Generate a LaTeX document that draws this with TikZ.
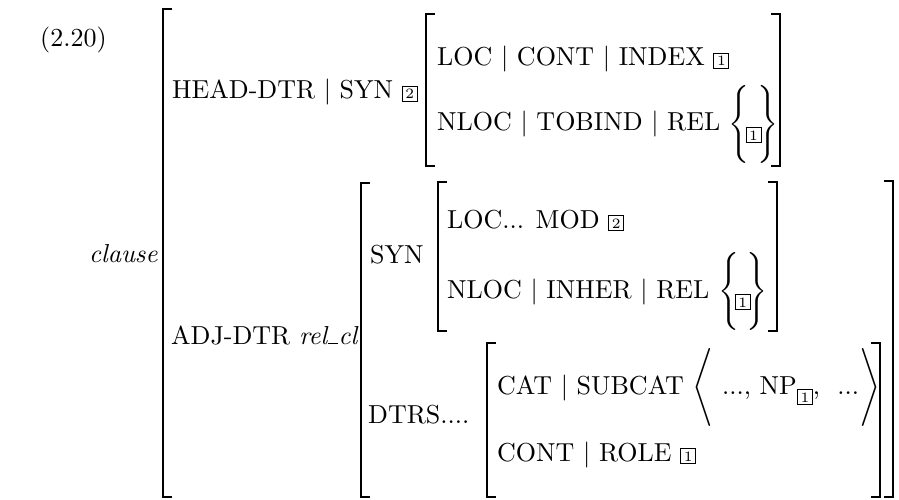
\documentclass[tikz,border=0pt]{standalone}
\usepackage{graphicx}
\usepackage{amsmath}
\newcommand{\tg}[1]{{\setlength{\fboxsep}{0.9pt}\setlength{\fboxrule}{0.38pt}\fbox{\makebox[3.6pt]{\fontsize{5.5}{6}\selectfont #1}}}}
\newcommand{\strt}{\vrule height 16.75pt depth 11.75pt width 0pt}
\newcommand{\T}[1]{\scalebox{2.6}{\fontsize{10}{12}\selectfont #1}}
\newcommand{\avmL}[3]{\draw[brk] (#1+9,#2) -- (#1,#2) -- (#1,#3) -- (#1+9,#3);}
\newcommand{\avmR}[3]{\draw[brk] (#1-9,#2) -- (#1,#2) -- (#1,#3) -- (#1-9,#3);}
\begin{document}
\begin{tikzpicture}[x=1pt,y=-1pt,
  txt/.style={anchor=base west,inner sep=0pt},
  txe/.style={anchor=base east,inner sep=0pt},
  brk/.style={line width=1.8pt,line cap=butt,line join=miter}]
\useasboundingbox (0,0) rectangle (899,500);
% texts
\node[txt] (ex) at (40,47) {\T{(2.20)}};
\node[txe] (cl) at (158,262) {\T{\textit{clause}}};
\node[txt] (hd) at (172,99) {\T{HEAD-DTR $|$ SYN \tg{2}}};
\node[txt] (hloc) at (437,66) {\T{LOC $|$ CONT $|$ INDEX \tg{1}}};
\node[txt] (hnloc) at (437,131) {\T{NLOC $|$ TOBIND $|$ REL $\left\{\strt\!\raisebox{-3.5pt}{\tg{1}}\!\right\}$}};
\node[txt] (adj) at (171,344) {\T{ADJ-DTR \textit{rel\kern0.3pt\rule{3.8pt}{0.4pt}\kern0.3pt cl}}};
\node[txt] (syn) at (370,263) {\T{SYN}};
\node[txt] (sloc) at (447,228) {\T{LOC... MOD \tg{2}}};
\node[txt] (snloc) at (447,298) {\T{NLOC $|$ INHER $|$ REL $\left\{\strt\!\raisebox{-3.5pt}{\tg{1}}\!\right\}$}};
\node[txt] (dtrs) at (368,423) {\T{DTRS....}};
\node[txt] (cat) at (497,394) {\T{CAT $|$ SUBCAT $\left\langle\strt\text{ ..., NP}\raisebox{-3.1pt}{\tg{1}}\text{, \ ...}\right\rangle$}};
\node[txt] (role) at (497,461) {\T{CONT $|$ ROLE \tg{1}}};
% brackets
\avmL{163}{9}{497}
\avmL{426}{14}{166}
\avmR{780}{14}{166}
\avmL{361}{183}{497}
\avmR{893}{181}{497}
\avmL{438}{182}{331}
\avmR{777}{182}{331}
\avmL{487}{343}{497}
\avmR{880}{343}{497}
\end{tikzpicture}
\end{document}
